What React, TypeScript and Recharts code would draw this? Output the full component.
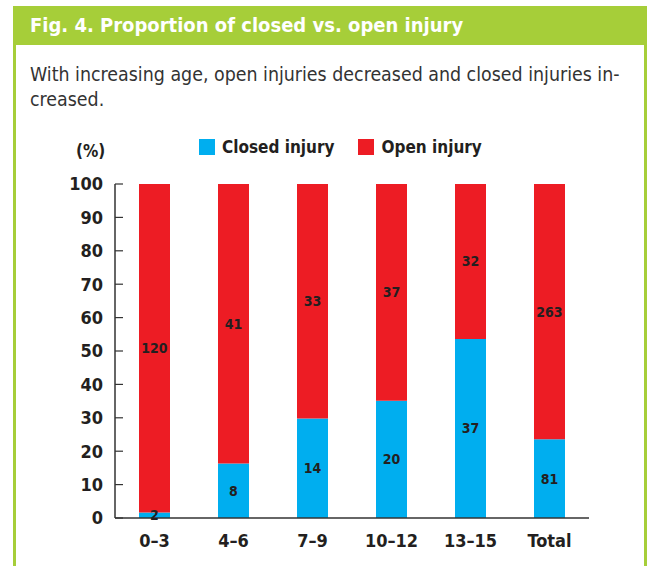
import React from 'react';
import { BarChart, Bar, XAxis, YAxis, LabelList } from 'recharts';

const categories = ['0–3', '4–6', '7–9', '10–12', '13–15', 'Total'];
const closedCounts = [2, 8, 14, 20, 37, 81];
const openCounts = [120, 41, 33, 37, 32, 263];
const yTicks = [0, 10, 20, 30, 40, 50, 60, 70, 80, 90, 100];
const seriesNames = ['Closed injury', 'Open injury'];

const data = categories.map((c, i) => {
  const total = closedCounts[i] + openCounts[i];
  return {
    category: c,
    closed: closedCounts[i],
    open: openCounts[i],
    closedPct: (closedCounts[i] / total) * 100,
    openPct: (openCounts[i] / total) * 100,
  };
});

const FONT = "'Liberation Sans Narrow', 'DejaVu Sans Condensed', 'Arial Narrow', sans-serif";
const GREEN = '#A6CE39';
const BLUE = '#00AEEF';
const RED = '#ED1C24';
const DARK = '#231F20';

export default function App() {
  return (
    <div style={{ position: 'absolute', left: 0, top: 0, width: 649, height: 566, background: '#fff', overflow: 'hidden', fontFamily: FONT }}>
      <div style={{ position: 'absolute', left: 13, top: 6, width: 634, height: 39, background: GREEN, color: '#fff', fontWeight: 'bold', fontSize: 20, lineHeight: '39px', paddingLeft: 17, boxSizing: 'border-box', whiteSpace: 'nowrap' }}>
        Fig. 4. Proportion of closed vs. open injury
      </div>
      <div style={{ position: 'absolute', left: 13, top: 45, width: 3, height: 521, background: GREEN }} />
      <div style={{ position: 'absolute', left: 644, top: 45, width: 3, height: 521, background: GREEN }} />
      <div style={{ position: 'absolute', left: 30, top: 62, fontSize: 19.4, lineHeight: '25px', color: '#333', whiteSpace: 'nowrap' }}>
        With increasing age, open injuries decreased and closed injuries in-
        <br />
        creased.
      </div>
      <div style={{ position: 'absolute', left: 76, top: 141, fontSize: 17, color: DARK, fontWeight: 'bold' }}>(%)</div>
      <div style={{ position: 'absolute', left: 199, top: 137, display: 'flex', alignItems: 'center', fontSize: 17, fontWeight: 'bold', color: DARK, whiteSpace: 'nowrap' }}>
        <span style={{ display: 'inline-block', width: 16, height: 16, background: BLUE, marginRight: 7 }} />
        <span style={{ marginRight: 23 }}>{seriesNames[0]}</span>
        <span style={{ display: 'inline-block', width: 16, height: 16, background: RED, marginRight: 8 }} />
        <span>{seriesNames[1]}</span>
      </div>
      <div style={{ position: 'absolute', left: 0, top: 0 }}>
        <BarChart
          width={649}
          height={566}
          data={data}
          margin={{ top: 184, right: 60, bottom: 8, left: 0 }}
          barSize={31}
        >
          <XAxis
            dataKey="category"
            height={40}
            tickLine={false}
            tickSize={0}
            tickMargin={16}
            axisLine={{ stroke: '#333', strokeWidth: 1.5 }}
            tick={{ fill: DARK, fontSize: 18, fontWeight: 'bold', fontFamily: FONT }}
          />
          <YAxis
            domain={[0, 100]}
            ticks={yTicks}
            interval={0}
            width={115}
            tickSize={-8}
            tickMargin={20}
            axisLine={{ stroke: '#333', strokeWidth: 1.5 }}
            tickLine={{ stroke: '#333', strokeWidth: 1.2 }}
            tick={{ fill: DARK, fontSize: 18, fontWeight: 'bold', fontFamily: FONT }}
          />
          <Bar dataKey="closedPct" name={seriesNames[0]} stackId="a" fill={BLUE} isAnimationActive={false}>
            <LabelList dataKey="closed" position="center" fill={DARK} fontSize={14} fontWeight="bold" fontFamily={FONT} />
          </Bar>
          <Bar dataKey="openPct" name={seriesNames[1]} stackId="a" fill={RED} isAnimationActive={false}>
            <LabelList dataKey="open" position="center" fill={DARK} fontSize={14} fontWeight="bold" fontFamily={FONT} />
          </Bar>
        </BarChart>
      </div>
    </div>
  );
}
